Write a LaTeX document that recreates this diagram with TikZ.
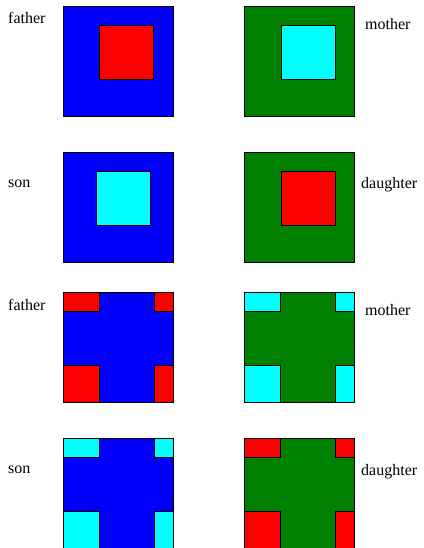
\documentclass[tikz,border=0pt]{standalone}
\usepackage{fontspec}
\setmainfont{Liberation Serif}
\definecolor{sqblue}{RGB}{0,0,250}
\definecolor{sqgreen}{RGB}{0,128,0}
\definecolor{sqred}{RGB}{255,0,0}
\definecolor{sqcyan}{RGB}{0,255,255}
\usetikzlibrary{positioning}

\begin{document}
\begin{tikzpicture}[x=1pt, y=-1pt,
    big/.style={rectangle, draw=black, line width=0.6pt, minimum size=110pt,
                inner sep=0pt, outer sep=0pt},
    inner/.style={rectangle, draw=black, line width=0.6pt, minimum size=54pt,
                  inner sep=0pt, outer sep=0pt},
    piece/.style={rectangle, draw=black, line width=0.6pt,
                  inner sep=0pt, outer sep=0pt},
    lbl/.style={anchor=west, inner sep=0pt, font=\fontsize{16}{19}\selectfont}
  ]
    \useasboundingbox (0,0) rectangle (423,548);

    % Row 1: father / mother
    \node[big, fill=sqblue]  (f1) at (118,   61.5) {};
    \node[inner, fill=sqred]  (f1in) at (126, 52) {};
    \node[big, fill=sqgreen] (m1) at (299.5, 61.5) {};
    \node[inner, fill=sqcyan] (m1in) at (308, 52) {};
    \node[lbl] (f1lbl) at (8, 18) {father};
    \node[lbl] (m1lbl) at (365, 24) {mother};

    % Row 2: son / daughter
    \node[big, fill=sqblue]  (s2) at (118,   207.5) {};
    \node[inner, fill=sqcyan] (s2in) at (123, 198) {};
    \node[big, fill=sqgreen] (d2) at (299.5, 207.5) {};
    \node[inner, fill=sqred]  (d2in) at (308, 198) {};
    \node[lbl] (s2lbl) at (8, 184) {son};
    \node[lbl] (d2lbl) at (361, 185) {daughter};

    % Row 3: father / mother, corner pieces
    \node[big, fill=sqblue]  (f3) at (118,   347.5) {};
    \node[piece, fill=sqred, minimum width=36pt, minimum height=19pt, anchor=north west] (f3a) at (f3.north west) {};
    \node[piece, fill=sqred, minimum width=19pt, minimum height=19pt, anchor=north east] (f3b) at (f3.north east) {};
    \node[piece, fill=sqred, minimum width=36pt, minimum height=37pt, anchor=south west] (f3c) at (f3.south west) {};
    \node[piece, fill=sqred, minimum width=19pt, minimum height=37pt, anchor=south east] (f3d) at (f3.south east) {};
    \node[big, fill=sqgreen] (m3) at (299.5, 347.5) {};
    \node[piece, fill=sqcyan, minimum width=36pt, minimum height=19pt, anchor=north west] (m3a) at (m3.north west) {};
    \node[piece, fill=sqcyan, minimum width=19pt, minimum height=19pt, anchor=north east] (m3b) at (m3.north east) {};
    \node[piece, fill=sqcyan, minimum width=36pt, minimum height=37pt, anchor=south west] (m3c) at (m3.south west) {};
    \node[piece, fill=sqcyan, minimum width=19pt, minimum height=37pt, anchor=south east] (m3d) at (m3.south east) {};
    \node[lbl] (f3lbl) at (8, 305) {father};
    \node[lbl] (m3lbl) at (365, 310) {mother};

    % Row 4: son / daughter, corner pieces
    \node[big, fill=sqblue]  (s4) at (118,   493) {};
    \node[piece, fill=sqcyan, minimum width=36pt, minimum height=19pt, anchor=north west] (s4a) at (s4.north west) {};
    \node[piece, fill=sqcyan, minimum width=19pt, minimum height=19pt, anchor=north east] (s4b) at (s4.north east) {};
    \node[piece, fill=sqcyan, minimum width=36pt, minimum height=37pt, anchor=south west] (s4c) at (s4.south west) {};
    \node[piece, fill=sqcyan, minimum width=19pt, minimum height=37pt, anchor=south east] (s4d) at (s4.south east) {};
    \node[big, fill=sqgreen] (d4) at (299.5, 493) {};
    \node[piece, fill=sqred, minimum width=36pt, minimum height=19pt, anchor=north west] (d4a) at (d4.north west) {};
    \node[piece, fill=sqred, minimum width=19pt, minimum height=19pt, anchor=north east] (d4b) at (d4.north east) {};
    \node[piece, fill=sqred, minimum width=36pt, minimum height=37pt, anchor=south west] (d4c) at (d4.south west) {};
    \node[piece, fill=sqred, minimum width=19pt, minimum height=37pt, anchor=south east] (d4d) at (d4.south east) {};
    \node[lbl] (s4lbl) at (8, 470) {son};
    \node[lbl] (d4lbl) at (361, 472) {daughter};
  \end{tikzpicture}
\end{document}
